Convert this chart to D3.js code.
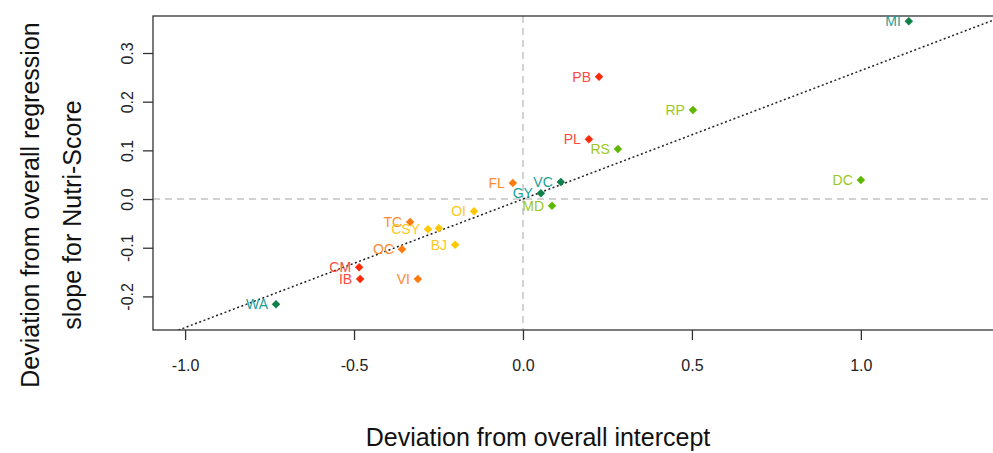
<!DOCTYPE html>
<head>
<meta charset="utf-8">
<title>Deviation plot</title>
<style>
body { margin: 0; background: #fff; }
svg { font-family: "Liberation Sans", Arial, sans-serif; }
.axis path { display: none; }
.axis line { stroke: #333; stroke-width: 1.3; }
.axis text { font-size: 16px; fill: #222; }
</style>
</head>
<body>
<svg id="chart"></svg>
<script src="https://d3js.org/d3.v7.min.js"></script>
<script>

// data
var codes  = ["MI", "PB", "RP", "PL", "RS", "DC", "VC", "FL", "GY", "MD",
              "OI", "TC", "CSY", "", "BJ", "OC", "CM", "IB", "VI", "WA"];
var dInter = [1.142, 0.225, 0.503, 0.195, 0.281, 1.000, 0.112, -0.030, 0.053, 0.086,
              -0.145, -0.334, -0.281, -0.249, -0.201, -0.358, -0.485, -0.482, -0.311, -0.731];
var dSlope = [0.365, 0.251, 0.183, 0.123, 0.103, 0.039, 0.035, 0.033, 0.012, -0.014,
              -0.025, -0.047, -0.062, -0.060, -0.094, -0.103, -0.140, -0.164, -0.164, -0.216];
var groups = ["dg", "r", "lg", "r", "lg", "lg", "dg", "o", "dg", "lg",
              "y", "o", "y", "y", "y", "o", "r", "r", "o", "dg"];
var xTicks = [-1.0, -0.5, 0.0, 0.5, 1.0];
var yTicks = [-0.2, -0.1, 0.0, 0.1, 0.2, 0.3];
var overallSlope = 0.264;

var pointColor = {r: "#ff2a0a", o: "#ff7a10", y: "#ffc800", lg: "#5cb800", dg: "#10804a"};
var textColor  = {r: "#ff4a40", o: "#ff8a2a", y: "#ffc820", lg: "#9cc820", dg: "#18a098"};

var W = 993, H = 453;
var plot = {left: 153, top: 16, right: 996, bottom: 330};

var svg = d3.select("#chart").attr("width", W).attr("height", H);

var x = d3.scaleLinear().domain([-1.095, 1.40]).range([plot.left, plot.right]);
var y = d3.scaleLinear().domain([-0.269, 0.376]).range([plot.bottom, plot.top]);

svg.append("clipPath").attr("id", "clip")
  .append("rect")
    .attr("x", plot.left).attr("y", plot.top)
    .attr("width", plot.right - plot.left).attr("height", plot.bottom - plot.top);

// reference lines at zero
svg.append("line")
    .attr("x1", x(0)).attr("x2", x(0))
    .attr("y1", plot.top).attr("y2", plot.bottom)
    .attr("stroke", "#c4c4c4").attr("stroke-width", 1.5).attr("stroke-dasharray", "7,5");
svg.append("line")
    .attr("x1", plot.left).attr("x2", plot.right)
    .attr("y1", y(0)).attr("y2", y(0))
    .attr("stroke", "#c4c4c4").attr("stroke-width", 1.5).attr("stroke-dasharray", "7,5");

// overall regression line
var xd = x.domain();
svg.append("line")
    .attr("clip-path", "url(#clip)")
    .attr("x1", x(xd[0])).attr("y1", y(xd[0] * overallSlope))
    .attr("x2", x(xd[1])).attr("y2", y(xd[1] * overallSlope))
    .attr("stroke", "#222").attr("stroke-width", 1.5).attr("stroke-dasharray", "2,2.5");

// box
svg.append("rect")
    .attr("x", plot.left).attr("y", plot.top)
    .attr("width", plot.right - plot.left).attr("height", plot.bottom - plot.top)
    .attr("fill", "none").attr("stroke", "#333").attr("stroke-width", 1.3);

// axes
var gx = svg.append("g")
    .attr("class", "axis")
    .attr("transform", "translate(0," + plot.bottom + ")")
    .call(d3.axisBottom(x).tickValues(xTicks).tickFormat(d3.format(".1f")).tickSize(10).tickPadding(20));

var gy = svg.append("g")
    .attr("class", "axis")
    .attr("transform", "translate(" + plot.left + ",0)")
    .call(d3.axisLeft(y).tickValues(yTicks).tickFormat(d3.format(".1f")).tickSize(10));

gy.selectAll("text")
    .attr("x", null).attr("dy", null)
    .attr("text-anchor", "middle")
    .attr("transform", "translate(-20,0) rotate(-90)");

gx.selectAll("text").text(function(d) { return d3.format(".1f")(d).replace("\u2212", "-"); });
gy.selectAll("text").text(function(d) { return d3.format(".1f")(d).replace("\u2212", "-"); });

// points
var idx = d3.range(codes.length);
var pts = svg.append("g");

pts.selectAll("path")
  .data(idx)
  .enter().append("path")
    .attr("d", d3.symbol().type(d3.symbolDiamond2).size(46))
    .attr("transform", function(i) { return "translate(" + x(dInter[i]) + "," + y(dSlope[i]) + ")"; })
    .attr("fill", function(i) { return pointColor[groups[i]]; });

pts.selectAll("text")
  .data(idx)
  .enter().append("text")
    .attr("x", function(i) { return x(dInter[i]) - 8; })
    .attr("y", function(i) { return y(dSlope[i]); })
    .attr("dy", "0.36em")
    .attr("text-anchor", "end")
    .style("font-size", "14px")
    .attr("fill", function(i) { return textColor[groups[i]]; })
    .text(function(i) { return codes[i]; });

// axis titles
svg.append("text")
    .attr("x", 538).attr("y", 446)
    .attr("text-anchor", "middle")
    .style("font-size", "25px").attr("fill", "#111")
    .text("Deviation from overall intercept");

svg.append("text")
    .attr("transform", "translate(39,205) rotate(-90)")
    .attr("text-anchor", "middle")
    .style("font-size", "25px").attr("fill", "#111")
    .text("Deviation from overall regression");

svg.append("text")
    .attr("transform", "translate(81,215) rotate(-90)")
    .attr("text-anchor", "middle")
    .style("font-size", "25px").attr("fill", "#111")
    .text("slope for Nutri-Score");

</script>
</body>
